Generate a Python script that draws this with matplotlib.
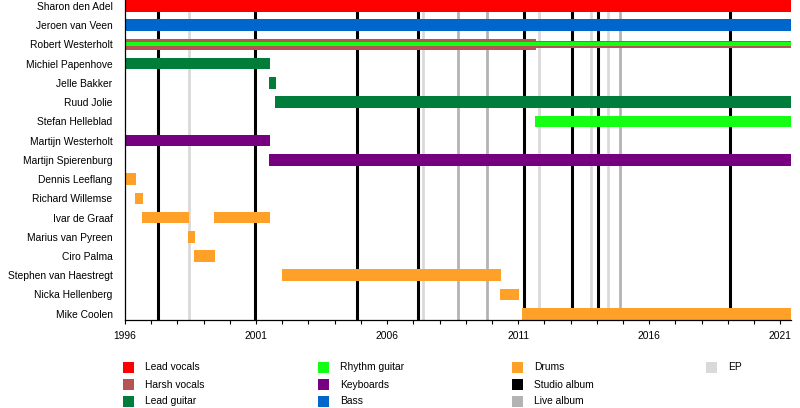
import matplotlib.pyplot as plt
from matplotlib.patches import Rectangle

plt.rcParams['font.family'] = ['Liberation Sans', 'DejaVu Sans']

END = 2021.4

members = ["Sharon den Adel", "Jeroen van Veen", "Robert Westerholt", "Michiel Papenhove",
           "Jelle Bakker", "Ruud Jolie", "Stefan Helleblad", "Martijn Westerholt",
           "Martijn Spierenburg", "Dennis Leeflang", "Richard Willemse", "Ivar de Graaf",
           "Marius van Pyreen", "Ciro Palma", "Stephen van Haestregt", "Nicka Hellenberg",
           "Mike Coolen"]

role_names = ["Lead vocals", "Harsh vocals", "Lead guitar", "Rhythm guitar", "Keyboards",
              "Bass", "Drums"]
role_colors = ["#ff0000", "#b45454", "#007d3a", "#14ff14", "#760080", "#0066cc", "#ffa028"]

# one entry per bar
bar_member = ["Sharon den Adel", "Jeroen van Veen", "Robert Westerholt", "Michiel Papenhove",
              "Jelle Bakker", "Ruud Jolie", "Stefan Helleblad", "Martijn Westerholt",
              "Martijn Spierenburg", "Dennis Leeflang", "Richard Willemse", "Ivar de Graaf",
              "Ivar de Graaf", "Marius van Pyreen", "Ciro Palma", "Stephen van Haestregt",
              "Nicka Hellenberg", "Mike Coolen"]
bar_role = ["Lead vocals", "Bass", "Harsh vocals", "Lead guitar", "Lead guitar", "Lead guitar",
            "Rhythm guitar", "Keyboards", "Keyboards", "Drums", "Drums", "Drums", "Drums",
            "Drums", "Drums", "Drums", "Drums", "Drums"]
bar_start = [1996.0, 1996.0, 1996.0, 1996.0, 2001.5, 2001.74, 2011.66, 1996.0, 2001.5,
             1996.0, 1996.38, 1996.65, 1999.41, 1998.4, 1998.63, 2001.99, 2010.32, 2011.14]
bar_end = [END, END, 2011.69, 2001.53, 2001.77, END, END, 2001.53, END,
           1996.42, 1996.69, 1998.44, 2001.53, 1998.67, 1999.44, 2010.34, 2011.03, END]

# narrower bars in Robert's row (harsh vocals after 2011, rhythm guitar throughout)
mid_member = ["Robert Westerholt"]
mid_role = ["Harsh vocals"]
mid_start = [2011.69]
mid_end = [END]

thin_member = ["Robert Westerholt"]
thin_role = ["Rhythm guitar"]
thin_start = [1996.0]
thin_end = [END]

studio_albums = [1997.26, 2000.96, 2004.85, 2007.19, 2011.24, 2013.07, 2014.06, 2019.09]
live_albums = [2008.72, 2009.83, 2014.87]
eps = [1998.44, 2007.36, 2011.81, 2013.77, 2014.41]

fig = plt.figure(figsize=(8, 4.08), dpi=100)
ax = fig.add_axes([125 / 800, 1 - 319.5 / 408, (790.7 - 125) / 800, 319.5 / 408])

color_of = dict(zip(role_names, role_colors))
row_of = {m: i for i, m in enumerate(members)}

for x in eps:
    ax.axvline(x, color="#d9d9d9", lw=2.0, zorder=1)
for x in live_albums:
    ax.axvline(x, color="#b3b3b3", lw=2.0, zorder=1)
for x in studio_albums:
    ax.axvline(x, color="black", lw=2.2, zorder=2)

ax.barh([row_of[m] for m in bar_member], [e - s for s, e in zip(bar_start, bar_end)],
        left=bar_start, height=0.6, color=[color_of[r] for r in bar_role], zorder=3)
ax.barh([row_of[m] for m in mid_member], [e - s for s, e in zip(mid_start, mid_end)],
        left=mid_start, height=0.4, color=[color_of[r] for r in mid_role], zorder=3)
ax.barh([row_of[m] for m in thin_member], [e - s for s, e in zip(thin_start, thin_end)],
        left=thin_start, height=0.21, color=[color_of[r] for r in thin_role], zorder=4)

ax.set_xlim(1996, END)
ax.set_ylim(16.3, -0.31)
ax.set_yticks(range(len(members)))
ax.set_yticklabels(members, fontsize=7.4)
ax.tick_params(axis="y", length=0, pad=9)
ax.set_xticks([1996, 2001, 2006, 2011, 2016, 2021])
ax.set_xticks(range(1996, 2022), minor=True)
ax.tick_params(axis="x", which="both", length=3, width=0.8, labelsize=7.4, pad=5)
for side in ["top", "right"]:
    ax.spines[side].set_visible(False)
for side in ["left", "bottom"]:
    ax.spines[side].set_linewidth(0.9)
    ax.spines[side].set_zorder(5)

# legend, laid out in pixel space under the chart
legend_names = role_names + ["Studio album", "Live album", "EP"]
legend_colors = role_colors + ["black", "#b3b3b3", "#d9d9d9"]
col_x = [123, 318, 512, 706]
row_y = [367, 384.5, 401.5]
lax = fig.add_axes([0, 0, 1, 1])
lax.set_xlim(0, 800)
lax.set_ylim(408, 0)
lax.axis("off")
for i, (name, c) in enumerate(zip(legend_names, legend_colors)):
    cx = col_x[i // 3]
    cy = row_y[i % 3]
    lax.add_patch(Rectangle((cx, cy - 5.5), 11, 11, color=c, lw=0))
    lax.text(cx + 22, cy, name, fontsize=7.4, va="center", ha="left")

fig.savefig("out.png", dpi=100)
